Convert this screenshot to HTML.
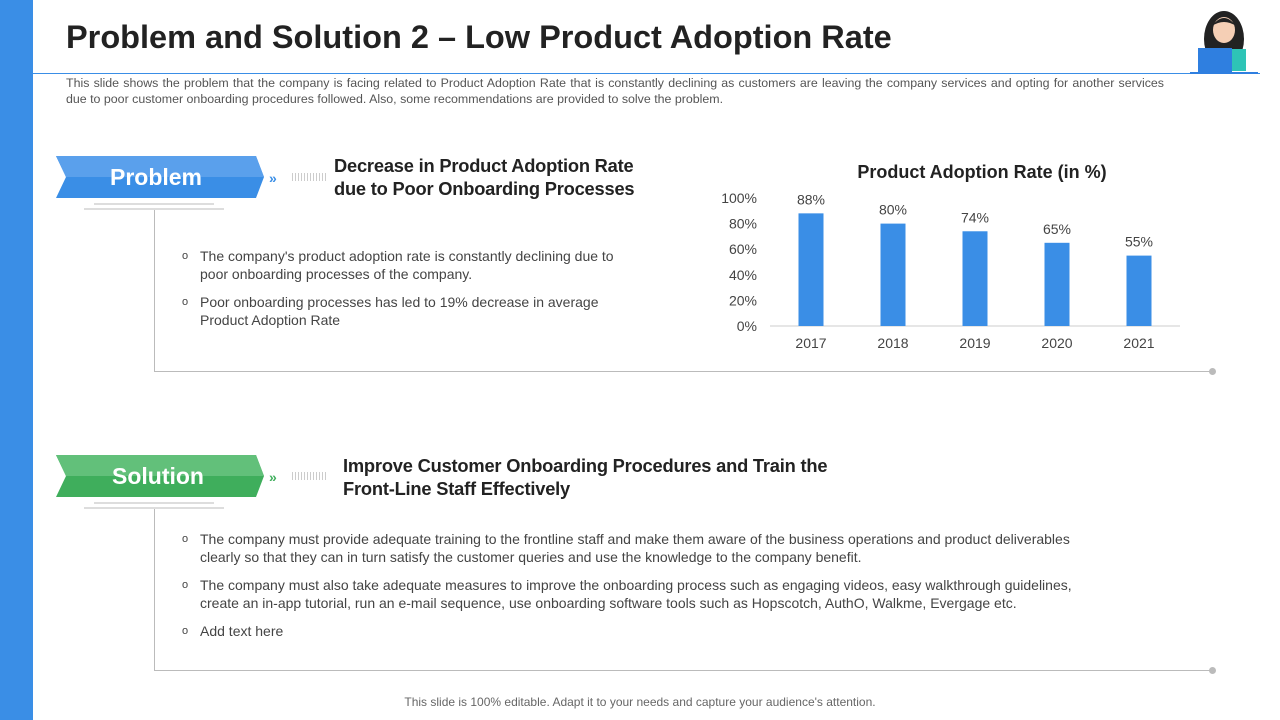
<!DOCTYPE html>
<html><head><meta charset="utf-8"><style>
body{margin:0;width:1280px;height:720px;position:relative;background:#fff;font-family:"Liberation Sans",sans-serif;overflow:hidden}
.abs{position:absolute}
.desc{font-size:12.4px;color:#555;line-height:15.5px}
.bul{font-size:14px;color:#444;line-height:18px}
.bul div{position:relative;padding-left:18px;margin-bottom:10px}
.bul div:before{content:"o";position:absolute;left:0;top:0;font-size:11px}
</style></head><body>
<div class="abs" style="left:0;top:0;width:33px;height:720px;background:#3a8ee6"></div>
<div class="abs" style="left:66px;top:19px;font-size:32.5px;font-weight:bold;color:#222">Problem and Solution 2 – Low Product Adoption Rate</div>
<div class="abs" style="left:33px;top:73px;width:1227px;height:1px;background:#3a8ee6"></div>
<svg class="abs" style="left:1188px;top:4px" width="72" height="70">
<ellipse cx="36" cy="35" rx="20" ry="28" fill="#222"/><rect x="22" y="45" width="36" height="22" fill="#2ec4b6"/><ellipse cx="36" cy="26" rx="11" ry="13" fill="#f5cfb5"/><path d="M24 22 Q36 6 48 22 Q36 14 24 22" fill="#222"/><rect x="10" y="44" width="34" height="24" fill="#2f7fe0"/><rect x="2" y="68" width="68" height="2" fill="#2f7fe0"/></svg>
<div class="abs desc" style="left:66px;top:76px;width:1098px;text-align:justify">This slide shows the problem that the company is facing related to Product Adoption Rate that is constantly declining as customers are leaving the company services and opting for another services due to poor customer onboarding procedures followed. Also, some recommendations are provided to solve the problem.</div>

<svg class="abs" style="left:56px;top:155px" width="300" height="60">
<polygon points="0,1 200,1 208,22 200,43 0,43 10,22" fill="#3a8ee6"/><polygon points="0,1 200,1 208,22 10,22" fill="#5aa0ec"/>
<text x="100" y="30" font-size="23" font-weight="bold" fill="#fff" text-anchor="middle" font-family="Liberation Sans">Problem</text>
<text x="213" y="28" font-size="14" font-weight="bold" fill="#3a8ee6">»</text>
<line x1="236" y1="22" x2="272" y2="22" stroke="#ccc" stroke-width="8" stroke-dasharray="1,2"/>
<line x1="38" y1="49" x2="158" y2="49" stroke="#bbb"/><line x1="28" y1="54" x2="168" y2="54" stroke="#bbb"/></svg>
<div class="abs" style="left:334px;top:154px;font-size:18.3px;font-weight:bold;color:#222;line-height:23px;letter-spacing:-0.2px">Decrease in Product Adoption Rate<br>due to Poor Onboarding Processes</div>
<div class="abs" style="left:154px;top:210px;width:1px;height:161px;background:#bbb"></div>
<div class="abs" style="left:154px;top:371px;width:1058px;height:1px;background:#bbb"></div>
<div class="abs" style="left:1209px;top:368px;width:7px;height:7px;border-radius:50%;background:#bbb"></div>
<div class="abs bul" style="left:182px;top:247px;width:450px">
<div>The company's product adoption rate is constantly declining due to poor onboarding processes of the company.</div>
<div>Poor onboarding processes has led to 19% decrease in average Product Adoption Rate</div></div>

<svg class="abs" id="chart" style="left:700px;top:150px" width="520" height="210"></svg>

<svg class="abs" style="left:56px;top:454px" width="300" height="60">
<polygon points="0,1 200,1 208,22 200,43 0,43 10,22" fill="#3fae5c"/><polygon points="0,1 200,1 208,22 10,22" fill="#62c07a"/>
<text x="102" y="30" font-size="23" font-weight="bold" fill="#fff" text-anchor="middle" font-family="Liberation Sans">Solution</text>
<text x="213" y="28" font-size="14" font-weight="bold" fill="#3fae5c">»</text>
<line x1="236" y1="22" x2="272" y2="22" stroke="#ccc" stroke-width="8" stroke-dasharray="1,2"/>
<line x1="38" y1="49" x2="158" y2="49" stroke="#bbb"/><line x1="28" y1="54" x2="168" y2="54" stroke="#bbb"/></svg>
<div class="abs" style="left:343px;top:454px;font-size:18.3px;font-weight:bold;color:#222;line-height:23px;letter-spacing:-0.2px">Improve Customer Onboarding Procedures and Train the<br>Front-Line Staff Effectively</div>
<div class="abs" style="left:154px;top:509px;width:1px;height:161px;background:#bbb"></div>
<div class="abs" style="left:154px;top:670px;width:1058px;height:1px;background:#bbb"></div>
<div class="abs" style="left:1209px;top:667px;width:7px;height:7px;border-radius:50%;background:#bbb"></div>
<div class="abs bul" style="left:182px;top:530px;width:925px">
<div>The company must provide adequate training to the frontline staff and make them aware of the business operations and product deliverables clearly so that they can in turn satisfy the customer queries and use the knowledge to the company benefit.</div>
<div>The company must also take adequate measures to improve the onboarding process such as engaging videos, easy walkthrough guidelines, create an in-app tutorial, run an e-mail sequence, use onboarding software tools such as Hopscotch, AuthO, Walkme, Evergage etc.</div>
<div>Add text here</div></div>
<div class="abs" style="left:0;width:1280px;top:695px;text-align:center;font-size:12px;color:#666">This slide is 100% editable. Adapt it to your needs and capture your audience's attention.</div>
<script>
const categories=["2017","2018","2019","2020","2021"];
const values=[88,80,74,65,55];
const ticks=[0,20,40,60,80,100];
const svg=document.getElementById('chart');const NS="http://www.w3.org/2000/svg";
const x0=70,x1=480,yb=176,yt=48;
const y=v=>yb-(v/100)*(yb-yt);
const step=(x1-x0)/categories.length;
const xc=i=>x0+step*(i+0.5);
function mk(t,a,txt){const e=document.createElementNS(NS,t);for(const k in a)e.setAttribute(k,a[k]);if(txt!==undefined)e.textContent=txt;svg.appendChild(e);return e;}
let t=mk('text',{x:282,y:28,'font-size':18,'font-weight':'bold','text-anchor':'middle',fill:'#222','font-family':'Liberation Sans'},'Product Adoption Rate (in %)');


ticks.forEach(v=>{const e=mk('text',{x:57,y:y(v)+5,'font-size':14,'text-anchor':'end',fill:'#444','font-family':'Liberation Sans'},v+'%');

});
const ax=mk('line',{x1:x0,x2:x1,y1:yb,y2:yb,stroke:'#ccc'});


values.forEach((v,i)=>{const b=mk('rect',{x:xc(i)-12.5,y:y(v),width:25,height:yb-y(v),fill:'#3a8ee6'});


const l=mk('text',{x:xc(i),y:y(v)-9,'font-size':14,'text-anchor':'middle',fill:'#444','font-family':'Liberation Sans'},v+'%');


const c=mk('text',{x:xc(i),y:yb+22,'font-size':14,'text-anchor':'middle',fill:'#444','font-family':'Liberation Sans'},categories[i]);

});
</script>
</body></html>
